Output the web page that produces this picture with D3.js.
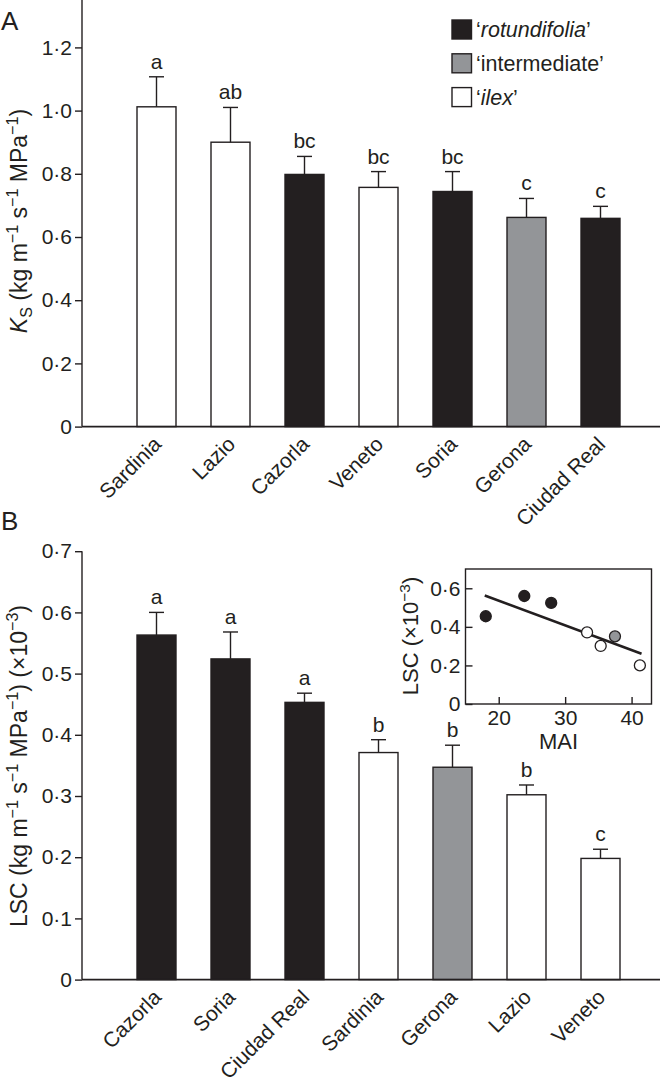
<!DOCTYPE html>
<html><head><meta charset="utf-8">
<script src="https://cdnjs.cloudflare.com/ajax/libs/d3/7.8.5/d3.min.js"></script>
<style>
html,body{margin:0;padding:0;background:#fff;}
text{font-family:"Liberation Sans",Arial,Helvetica,sans-serif;fill:#231f20;}
</style></head>
<body>
<svg id="chart" width="660" height="1087"></svg>
<script>
// ---------- data ----------
const catsA   = ["Sardinia","Lazio","Cazorla","Veneto","Soria","Gerona","Ciudad Real"];
const ksMean  = [1.012, 0.900, 0.798, 0.757, 0.744, 0.662, 0.659];
const ksErr   = [0.095, 0.110, 0.057, 0.050, 0.063, 0.060, 0.038];
const groupsA = ["ilex","ilex","rotundifolia","ilex","rotundifolia","intermediate","rotundifolia"];
const lettersA= ["a","ab","bc","bc","bc","c","c"];
const ticksA  = [0, 0.2, 0.4, 0.6, 0.8, 1.0, 1.2];

const catsB   = ["Cazorla","Soria","Ciudad Real","Sardinia","Gerona","Lazio","Veneto"];
const lscMean = [0.563, 0.524, 0.453, 0.371, 0.347, 0.302, 0.198];
const lscErr  = [0.037, 0.044, 0.015, 0.021, 0.036, 0.016, 0.015];
const groupsB = ["rotundifolia","rotundifolia","rotundifolia","ilex","intermediate","ilex","ilex"];
const lettersB= ["a","a","a","b","b","b","c"];
const ticksB  = [0, 0.1, 0.2, 0.3, 0.4, 0.5, 0.6, 0.7];

// inset: MAI vs LSC (same order as catsB)
const insetMAI = [23.85, 27.9, 18.05, 33.3, 37.5, 35.35, 41.25];
const insetLSC = [0.560, 0.524, 0.455, 0.371, 0.351, 0.301, 0.200];
const insetXTicks = [20, 30, 40];
const insetYTicks = [0, 0.2, 0.4, 0.6];

const legendGroups = ["rotundifolia","intermediate","ilex"];

// ---------- styles ----------
const ink = "#231f20";
const fillOf = {rotundifolia: "#231f20", intermediate: "#939598", ilex: "#ffffff"};
const fmt = d => d === 0 ? "0" : d3.format(".1f")(d).replace(".", "\u00b7");
const FS = 21;
const TFS = 23;

const svg = d3.select("#chart");

function superText(sel, parts){
  parts.forEach(([t, k]) => {
    const ts = sel.append("tspan").text(t);
    if (k === "i") ts.attr("font-style","italic");
    if (k === "sup") ts.attr("font-size", "0.7em").attr("dy", "-0.55em");
    if (k === "sub") ts.attr("font-size", "0.7em").attr("dy", "0.3em");
    if (k === "nsup") ts.attr("dy", "0.385em");
    if (k === "nsub") ts.attr("dy", "-0.21em");
  });
}

function barPanel(opt){
  const {cats, mean, err, groups, letters, ticks, y, top} = opt;
  const x = d3.scaleBand().domain(cats).range([119.5, 637.5]).paddingInner(0.473).paddingOuter(0.2365);
  const g = svg.append("g");

  g.selectAll("rect.bar").data(cats).enter().append("rect")
    .attr("x", d => x(d)).attr("width", x.bandwidth())
    .attr("y", (d,i) => y(mean[i])).attr("height", (d,i) => y(0) - y(mean[i]))
    .attr("fill", (d,i) => fillOf[groups[i]])
    .attr("stroke", ink).attr("stroke-width", 1.4);

  const eb = g.selectAll("g.err").data(cats).enter().append("g");
  eb.append("line")
    .attr("x1", d => x(d) + x.bandwidth()/2).attr("x2", d => x(d) + x.bandwidth()/2)
    .attr("y1", (d,i) => y(mean[i])).attr("y2", (d,i) => y(mean[i] + err[i]))
    .attr("stroke", ink).attr("stroke-width", 1.4);
  eb.append("line")
    .attr("x1", d => x(d) + x.bandwidth()/2 - 7.5).attr("x2", d => x(d) + x.bandwidth()/2 + 7.5)
    .attr("y1", (d,i) => y(mean[i] + err[i])).attr("y2", (d,i) => y(mean[i] + err[i]))
    .attr("stroke", ink).attr("stroke-width", 1.4);

  g.selectAll("text.let").data(cats).enter().append("text")
    .attr("x", d => x(d) + x.bandwidth()/2)
    .attr("y", (d,i) => y(mean[i] + err[i]) - 8)
    .attr("text-anchor", "middle").attr("font-size", FS)
    .text((d,i) => letters[i]);

  const ya = d3.axisLeft(y).tickValues(ticks).tickFormat(fmt).tickSize(7).tickPadding(3);
  const yg = g.append("g").attr("transform", "translate(82,0)").call(ya);
  yg.select(".domain").remove();
  yg.selectAll("line").attr("stroke", ink).attr("stroke-width", 1.4);
  yg.selectAll("text").attr("font-size", FS).attr("font-family", null).attr("fill", ink);
  g.append("line").attr("x1", 82).attr("x2", 82).attr("y1", top).attr("y2", y(0))
    .attr("stroke", ink).attr("stroke-width", 1.4);
  g.append("line").attr("x1", 82).attr("x2", 660).attr("y1", y(0)).attr("y2", y(0))
    .attr("stroke", ink).attr("stroke-width", 1.6);

  g.selectAll("text.xl").data(cats).enter().append("text")
    .attr("transform", d => `translate(${x(d) + x.bandwidth()/2 + 6},${y(0) + 19}) rotate(-45)`)
    .attr("text-anchor", "end").attr("font-size", FS)
    .text(d => d);
  return x;
}

// ---------- Panel A ----------
const yA = d3.scaleLinear().domain([0, 1.35]).range([426.6, 0]);
barPanel({cats: catsA, mean: ksMean, err: ksErr, groups: groupsA, letters: lettersA, ticks: ticksA, y: yA, top: 0});

svg.append("text").attr("x", 1).attr("y", 30).attr("font-size", 26).text("A");

const tA = svg.append("text").attr("transform", "translate(27,221) rotate(-90)")
  .attr("text-anchor", "middle").attr("font-size", TFS);
superText(tA, [["K","i"],["S","sub"],[" (kg m","nsub"],["\u22121","sup"],[" s","nsup"],["\u22121","sup"],[" MPa","nsup"],["\u22121","sup"],[")","nsup"]]);

// legend
const leg = svg.append("g");
legendGroups.forEach((gname, i) => {
  const cy = 29.5 + i * 33.8;
  leg.append("rect").attr("x", 452).attr("y", cy - 9.5).attr("width", 19.5).attr("height", 19)
    .attr("fill", fillOf[gname]).attr("stroke", ink).attr("stroke-width", 1.4);
  const t = leg.append("text").attr("x", 476).attr("y", cy + 7.5).attr("font-size", 21.5);
  if (gname === "intermediate") t.text("\u2018intermediate\u2019");
  else superText(t, [["\u2018","n"],[gname,"i"],["\u2019","n"]]);
});

// ---------- Panel B ----------
const yB = d3.scaleLinear().domain([0, 0.7]).range([979.6, 551.2]);
barPanel({cats: catsB, mean: lscMean, err: lscErr, groups: groupsB, letters: lettersB, ticks: ticksB, y: yB, top: 551.2});

svg.append("text").attr("x", 1).attr("y", 530).attr("font-size", 26).text("B");

const tB = svg.append("text").attr("transform", "translate(27,766) rotate(-90)")
  .attr("text-anchor", "middle").attr("font-size", TFS);
superText(tB, [["LSC (kg m","n"],["\u22121","sup"],[" s","nsup"],["\u22121","sup"],[" MPa","nsup"],["\u22121","sup"],[") (\u00d710","nsup"],["\u22123","sup"],[")","nsup"]]);

// ---------- Inset ----------
const xI = d3.scaleLinear().domain([15, 43]).range([465.5, 651.5]);
const yI = d3.scaleLinear().domain([0, 0.7]).range([704, 569]);
const ins = svg.append("g");
ins.append("rect").attr("x", xI(15)).attr("y", yI(0.7)).attr("width", xI(43) - xI(15)).attr("height", yI(0) - yI(0.7))
  .attr("fill", "none").attr("stroke", ink).attr("stroke-width", 1.4);

const xIa = d3.axisBottom(xI).tickValues(insetXTicks).tickSizeInner(-7).tickSizeOuter(0).tickPadding(6);
const xIg = ins.append("g").attr("transform", `translate(0,${yI(0)})`).call(xIa);
xIg.select(".domain").remove();
xIg.selectAll("line").attr("stroke", ink).attr("stroke-width", 1.4);
xIg.selectAll("text").attr("font-size", FS).attr("font-family", null).attr("fill", ink);

const yIa = d3.axisLeft(yI).tickValues(insetYTicks).tickFormat(fmt).tickSizeInner(-7).tickSizeOuter(0).tickPadding(5);
const yIg = ins.append("g").attr("transform", `translate(${xI(15)},0)`).call(yIa);
yIg.select(".domain").remove();
yIg.selectAll("line").attr("stroke", ink).attr("stroke-width", 1.4);
yIg.selectAll("text").attr("font-size", FS).attr("font-family", null).attr("fill", ink);

// regression line (least squares of inset points)
const mx = d3.mean(insetMAI), my = d3.mean(insetLSC);
const sxy = d3.sum(insetMAI.map((v,i) => (v - mx) * (insetLSC[i] - my)));
const sxx = d3.sum(insetMAI.map(v => (v - mx) ** 2));
const slope = sxy / sxx, icpt = my - slope * mx;
const xr = d3.extent(insetMAI);
ins.append("line")
  .attr("x1", xI(xr[0] - 0.15)).attr("y1", yI(icpt + slope * (xr[0] - 0.15)))
  .attr("x2", xI(xr[1] + 0.25)).attr("y2", yI(icpt + slope * (xr[1] + 0.25)))
  .attr("stroke", ink).attr("stroke-width", 2.6);

ins.selectAll("circle").data(insetMAI).enter().append("circle")
  .attr("cx", d => xI(d)).attr("cy", (d,i) => yI(insetLSC[i])).attr("r", 5.5)
  .attr("fill", (d,i) => fillOf[groupsB[i]]).attr("stroke", ink).attr("stroke-width", 1.3);

ins.append("text").attr("x", (xI(15) + xI(43)) / 2).attr("y", 749).attr("text-anchor", "middle")
  .attr("font-size", 22).text("MAI");
const tI = ins.append("text").attr("transform", "translate(418,636) rotate(-90)")
  .attr("text-anchor", "middle").attr("font-size", 22);
superText(tI, [["LSC (\u00d710","n"],["\u22123","sup"],[")","nsup"]]);
</script>
</body></html>
